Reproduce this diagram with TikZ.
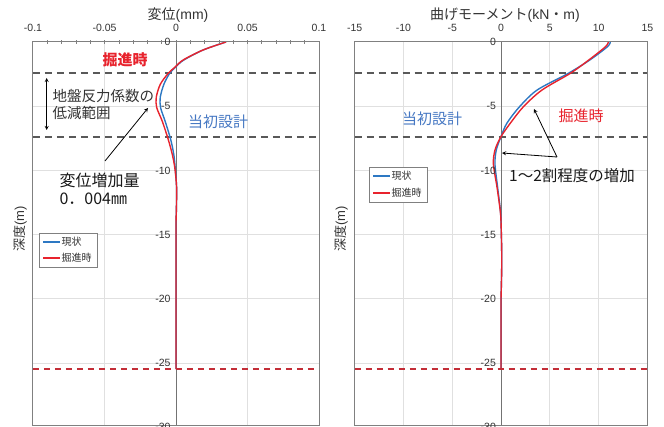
\documentclass[tikz,border=0pt]{standalone}
\usepackage{fontspec}
\setmainfont{Liberation Sans}
\newfontfamily\jp{Noto Sans CJK JP}
\definecolor{genjo}{RGB}{45,120,195}
\definecolor{kussin}{RGB}{232,35,45}
\definecolor{shoki}{RGB}{70,120,195}
\definecolor{akairo}{RGB}{195,45,55}
\begin{document}
\begin{tikzpicture}[x=1pt,y=-1pt,
  memori/.style={font=\fontsize{10.5}{12}\selectfont, text=black!80, inner sep=1pt},
  midashi/.style={font=\fontsize{14}{16}\selectfont, text=black!80},
  waku/.style={draw=black!50, line width=1pt},
  masu/.style={black!12, line width=0.8pt},
  jiku/.style={black!55, line width=1pt},
  tensen/.style={black!65, line width=1.2pt, dash pattern=on 7pt off 5pt},
  akasen/.style={akairo, line width=1.8pt, dash pattern=on 6pt off 5pt},
  sen/.style={line width=1.4pt, line join=round},
  hanrei/.style={font=\jp\fontsize{10}{11}\selectfont, text=black!80, inner sep=1pt},
  chu/.style={font=\jp\fontsize{15}{17}\selectfont}]
\useasboundingbox (0,0) rectangle (664,427);

\begin{scope}[shift={(176,42)},x=1430pt,y=12.84pt]
\fill[white] (-0.1,0) rectangle (0.1,-29.9);
\draw[masu] (-0.05,0)--(-0.05,-29.9) (0.05,0)--(0.05,-29.9);
\foreach \d in {-5,-10,...,-25} \draw[masu] (-0.1,\d)--(0.1,\d);
\draw[jiku] (0,0)--(0,-29.9);
\draw[tensen] (-0.1,-2.41)--(0.1,-2.41) (-0.1,-7.4)--(0.1,-7.4);
\draw[genjo,sen] plot[smooth] coordinates {(0.035,0) (0.019,-0.62) (0.0055,-1.4) (0,-1.92) (-0.0045,-2.45) (-0.0085,-3.3) (-0.011,-4.3) (-0.0108,-5.1) (-0.0075,-6.2) (-0.0037,-7.6) (-0.0015,-8.8) (-0.0005,-9.9) (0.0004,-11.3) (0.0003,-12.8) (0,-14)} -- (0,-25.47);
\draw[kussin,sen] plot[smooth] coordinates {(0.035,0) (0.019,-0.62) (0.005,-1.4) (-0.0003,-1.92) (-0.0055,-2.45) (-0.011,-3.3) (-0.0138,-4.3) (-0.0135,-5.1) (-0.0095,-6.2) (-0.0054,-7.6) (-0.0025,-8.8) (-0.0007,-9.9) (0.0004,-11.3) (0.0003,-12.8) (0,-14)} -- (0,-25.47);
\draw[akasen] (-0.1,-25.47)--(0.1,-25.47);
\draw[waku] (-0.1,-29.9) rectangle (0.1,0);
\foreach \t in {-9,...,9} \draw[waku, line width=0.6pt] (\t/100,0.12)--(\t/100,-0.12);
\foreach \t [count=\i] in {-0.1,-0.05,0,0.05,0.1} \node[memori] (hx\i) at (\t,1.1) {\t};
\foreach \d [count=\i] in {0,-5,...,-30} \node[memori, anchor=east] (hy\i) at (-0.003,\d) {\d};
\end{scope}

\begin{scope}[shift={(501,42)},x=9.76pt,y=12.84pt]
\fill[white] (-15,0) rectangle (15,-29.9);
\foreach \m in {-10,-5,5,10} \draw[masu] (\m,0)--(\m,-29.9);
\foreach \d in {-5,-10,...,-25} \draw[masu] (-15,\d)--(15,\d);
\draw[jiku] (0,0)--(0,-29.9);
\draw[tensen] (-15,-2.41)--(15,-2.41) (-15,-7.4)--(15,-7.4);
\draw[genjo,sen] plot[smooth] coordinates {(11.2,0) (10.9,-0.37) (9.1,-1.4) (6.9,-2.44) (3.7,-3.74) (1.9,-5.04) (0.6,-6.33) (0,-7.37) (-0.48,-8.4) (-0.62,-9.5) (-0.35,-11.3) (-0.08,-13) (0,-14) (0.08,-17) (0,-20)} -- (0,-25.47);
\draw[kussin,sen] plot[smooth] coordinates {(11.0,0) (10.7,-0.37) (9.0,-1.4) (7.1,-2.44) (4.2,-3.74) (2.3,-5.04) (0.95,-6.33) (0,-7.37) (-0.61,-8.4) (-0.78,-9.5) (-0.41,-11.3) (-0.1,-13) (0,-14) (0.08,-17) (0,-20)} -- (0,-25.47);
\draw[akasen] (-15,-25.47)--(15,-25.47);
\draw[waku] (-15,-29.9) rectangle (15,0);
\foreach \t [count=\i] in {-15,-10,...,15} \node[memori] (mx\i) at (\t,1.1) {\t};
\foreach \d [count=\i] in {0,-5,...,-30} \node[memori, anchor=east] (my\i) at (-0.4,\d) {\d};
\end{scope}

\node[midashi] (henitl) at (178,15) {{\jp 変位}(mm)};
\node[midashi] (mometl) at (505,15) {{\jp 曲げモーメント}(kN{\jp ・}m)};
\node[midashi, rotate=90, font=\fontsize{13}{15}\selectfont] (sindo1) at (20,229) {{\jp 深度}(m)};
\node[midashi, rotate=90, font=\fontsize{13}{15}\selectfont] (sindo2) at (341,229) {{\jp 深度}(m)};

\draw[waku, line width=0.8pt, fill=white] (39,233) rectangle (97,267);
\draw[genjo,sen] (43,242)--(60,242) node[hanrei, right] (lh1) {現状};
\draw[kussin,sen] (43,258)--(60,258) node[hanrei, right] (lh2) {掘進時};
\draw[waku, line width=0.8pt, fill=white] (369,167) rectangle (427,202);
\draw[genjo,sen] (373,176)--(390,176) node[hanrei, right] (rh1) {現状};
\draw[kussin,sen] (373,193)--(390,193) node[hanrei, right] (rh2) {掘進時};

\node[chu, kussin, font=\jp\bfseries\fontsize{15}{17}\selectfont] (lkus) at (125,60) {掘進時};
\node[chu, shoki] (lsho) at (218,122) {当初設計};
\node[chu, text=black!80, font=\jp\fontsize{14.5}{17}\selectfont, align=left, anchor=west] (teigen) at (49,104) {地盤反力係数の\\低減範囲};
\node[chu, text=black!90, font=\jp\fontsize{16}{18}\selectfont, align=left, anchor=west] (zouka) at (56,189) {変位増加量\\0．004㎜};
\coordinate (ya1) at (46.7,78);
\coordinate (ya2) at (46.7,130);
\draw[<->, >=stealth, line width=0.8pt] (ya1)--(ya2);
\coordinate (zs) at (105,161);
\coordinate (ze) at (148,108);
\draw[->, >=stealth, line width=0.8pt] (zs)--(ze);

\node[chu, shoki] (rsho) at (432,119) {当初設計};
\node[chu, kussin] (rkus) at (581,116) {掘進時};
\node[chu, text=black!90, font=\jp\fontsize{15.5}{17}\selectfont] (wari) at (572,176) {1～2割程度の増加};
\coordinate (ws) at (557,157);
\coordinate (we1) at (534,109);
\coordinate (we2) at (502,153);
\draw[->, >=stealth, line width=0.8pt] (ws)--(we1);
\draw[->, >=stealth, line width=0.8pt] (ws)--(we2);
\end{tikzpicture}
\end{document}
